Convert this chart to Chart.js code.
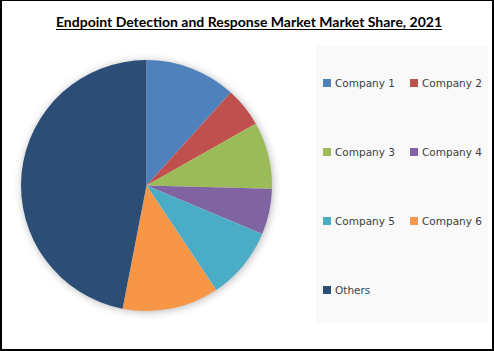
<!DOCTYPE html>
<html>
<head>
<meta charset="utf-8">
<script src="https://cdn.jsdelivr.net/npm/chart.js@4/dist/chart.umd.min.js"></script>
<style>
  html, body { margin: 0; padding: 0; background: #fff; }
  #frame {
    position: relative; width: 494px; height: 351px; box-sizing: border-box;
    border: solid #000; border-width: 1px 2px 2px 2px; overflow: hidden;
  }
  #title {
    position: absolute; left: 0; top: 12px; width: 494px; text-align: center;
    font-family: Lato, "Open Sans", sans-serif; font-weight: bold; font-size: 14px;
    color: #000; text-decoration: underline; text-underline-offset: 2px;
  }
  #pieBox { position: absolute; left: 3px; top: 43px; width: 283px; height: 283px; }
  #legend {
    position: absolute; left: 314px; top: 45px; width: 172px; height: 277px;
    background: #f9f9f9; box-sizing: border-box; padding: 2px 0 0 7px;
    display: grid; grid-template-columns: 87px 80px; grid-auto-rows: 69px; align-items: center;
  }
  .item { display: flex; align-items: center; font-family: "DejaVu Sans", Verdana, sans-serif;
          font-size: 10.5px; color: #404040; white-space: nowrap; }
  .sw { width: 8px; height: 8px; margin-right: 4px; flex: none; }
</style>
</head>
<body>
<div id="frame">
  <div id="title">Endpoint Detection and Response Market Market Share, 2021</div>
  <div id="pieBox"><canvas id="pie"></canvas></div>
  <div id="legend"></div>
</div>
<script>
// categories and market share (%)
const labels = ['Company 1', 'Company 2', 'Company 3', 'Company 4', 'Company 5', 'Company 6', 'Others'];
const shares = [11.7, 5.1, 8.6, 5.9, 9.3, 12.4, 46.9];
const colors = ['#4f81bd', '#c0504d', '#9bbb59', '#8064a2', '#4bacc6', '#f79646', '#2c4d75'];

// soft shadow behind the pie
const pieShadow = {
    id: 'pieShadow',
    beforeDatasetsDraw(chart) {
        const arc = chart.getDatasetMeta(0).data[0];
        if (!arc) return;
        const ctx = chart.ctx;
        ctx.save();
        ctx.shadowColor = 'rgba(0,0,0,0.35)';
        ctx.shadowBlur = 10;
        ctx.shadowOffsetX = 1;
        ctx.shadowOffsetY = 1;
        ctx.fillStyle = '#fff';
        ctx.beginPath();
        ctx.arc(arc.x, arc.y, arc.outerRadius - 1, 0, Math.PI * 2);
        ctx.fill();
        ctx.restore();
    }
};

new Chart(document.getElementById('pie'), {
    type: 'pie',
    data: {
        labels: labels,
        datasets: [{
            data: shares,
            backgroundColor: colors,
            borderWidth: 0
        }]
    },
    options: {
        responsive: true,
        maintainAspectRatio: false,
        animation: false,
        layout: { padding: 16 },
        plugins: {
            legend: { display: false },
            tooltip: { enabled: false }
        }
    },
    plugins: [pieShadow]
});

// legend in two columns, row by row
const legendEl = document.getElementById('legend');
labels.forEach((name, i) => {
    const item = document.createElement('div');
    item.className = 'item';
    const sw = document.createElement('span');
    sw.className = 'sw';
    sw.style.background = colors[i];
    item.appendChild(sw);
    item.appendChild(document.createTextNode(name));
    legendEl.appendChild(item);
});
</script>
</body>
</html>
